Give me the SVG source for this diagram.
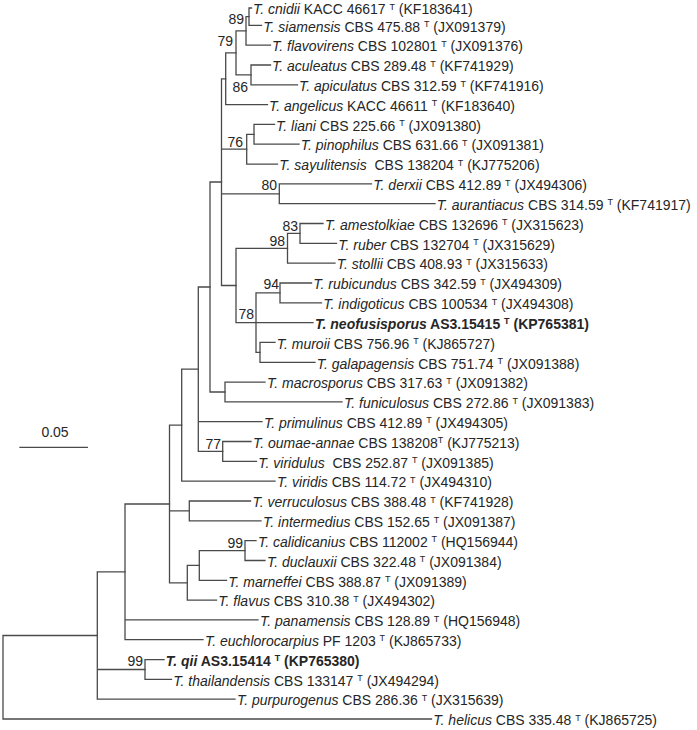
<svg xmlns="http://www.w3.org/2000/svg" width="697" height="730" viewBox="0 0 697 730">
<style>
text{font-family:"Liberation Sans",Arial,sans-serif;font-size:14px;fill:#262626}
.i{font-style:italic}
.b{font-weight:bold}
.s{font-size:9px}
.br{fill:none;stroke:#4a4a4a;stroke-width:1.3;stroke-linecap:square}
</style>
<rect width="697" height="730" fill="#fff"/>
<g id="connectors" class="br">
<path d="M3 635.5V719M3 635.5H97.3M3 719H431.5"/>
<path d="M97.3 571.9V699.2M97.3 571.9H125M97.3 669.5H145M97.3 699.2H235"/>
<path d="M145 659.6V679.4M145 659.6H164M145 679.4H171.5"/>
<path d="M125 504V639.7M125 504H169.5M125 619.9H258M125 639.7H203"/>
<path d="M169.5 425.2V582.8M169.5 425.2H181.7M169.5 510.9H189.3M169.5 582.8H187.3"/>
<path d="M187.3 565.4V600.1M187.3 565.4H199.3M187.3 600.1H216.5"/>
<path d="M199.3 550.6V580.3M199.3 550.6H245M199.3 580.3H226.5"/>
<path d="M245 540.6V560.5M245 540.6H256M245 560.5H265"/>
<path d="M189.3 501V520.8M189.3 501H250.5M189.3 520.8H261"/>
<path d="M181.7 369.2V481.2M181.7 369.2H198.3M181.7 481.2H275"/>
<path d="M198.3 287V451.4M198.3 287H210M198.3 421.7H262M198.3 451.4H222.7"/>
<path d="M222.7 441.5V461.4M222.7 441.5H251M222.7 461.4H256.5"/>
<path d="M210 182V392M210 182H221.5M210 392H225"/>
<path d="M225 382.1V401.9M225 382.1H265M225 401.9H342"/>
<path d="M221.5 78.8V285.5M221.5 78.8H225.7M221.5 149.2H246.7M221.5 193.8H279.3M221.5 285.5H236"/>
<path d="M236 248.3V322.6M236 248.3H287.5M236 322.6H313"/>
<path d="M256 292.9V352.4M256 292.9H280M256 352.4H260"/>
<path d="M260 342.4V362.3M260 342.4H275M260 362.3H315"/>
<path d="M280 283V302.8M280 283H311.5M280 302.8H321.5"/>
<path d="M287.5 233.4V263.2M287.5 233.4H300M287.5 263.2H335"/>
<path d="M300 223.5V243.3M300 223.5H323M300 243.3H336.5"/>
<path d="M279.3 183.9V203.7M279.3 183.9H371.5M279.3 203.7H435"/>
<path d="M246.7 134.3V164.1M246.7 134.3H254M246.7 164.1H277.5"/>
<path d="M254 124.4V144.2M254 124.4H274.5M254 144.2H299"/>
<path d="M225.7 52.9V104.6M225.7 52.9H236M225.7 104.6H267.5"/>
<path d="M236 30.9V74.9M236 30.9H246M236 74.9H251"/>
<path d="M251 65V84.8M251 65H270.5M251 84.8H297.5"/>
<path d="M246 16.6V45.1M246 16.6H249M246 45.1H270.5"/>
<path d="M249 8V25.3M249 8H251.5M249 25.3H261.5"/>
</g>
<g id="scalebar">
<path class="br" d="M20 447.3H87.3"/>
<text x="55" y="437" text-anchor="middle">0.05</text>
</g>
<g id="bootstrap" text-anchor="end">
<text x="244" y="24">89</text>
<text x="233" y="46">79</text>
<text x="248" y="92">86</text>
<text x="243" y="147">76</text>
<text x="277" y="190">80</text>
<text x="298" y="231">83</text>
<text x="285" y="246">98</text>
<text x="279" y="289">94</text>
<text x="254" y="319">78</text>
<text x="221" y="449">77</text>
<text x="243" y="548">99</text>
<text x="143" y="666">99</text>
</g>
<g id="leaves" transform="translate(0,1.3)">
<g id="leaf-cnidii"><text x="253" y="13.2"><tspan class="i">T. cnidii</tspan> KACC 46617 <tspan class="s" dy="-4.5">T</tspan><tspan dy="4.5"> (KF183641)</tspan></text></g>
<g id="leaf-siamensis"><text x="263.3" y="30.3"><tspan class="i">T. siamensis</tspan> CBS 475.88 <tspan class="s" dy="-4.5">T</tspan><tspan dy="4.5"> (JX091379)</tspan></text></g>
<g id="leaf-flavovirens"><text x="272" y="50.1"><tspan class="i">T. flavovirens</tspan> CBS 102801 <tspan class="s" dy="-4.5">T</tspan><tspan dy="4.5"> (JX091376)</tspan></text></g>
<g id="leaf-aculeatus"><text x="272" y="70"><tspan class="i">T. aculeatus</tspan> CBS 289.48 <tspan class="s" dy="-4.5">T</tspan><tspan dy="4.5"> (KF741929)</tspan></text></g>
<g id="leaf-apiculatus"><text x="299" y="89.8"><tspan class="i">T. apiculatus</tspan> CBS 312.59 <tspan class="s" dy="-4.5">T</tspan><tspan dy="4.5"> (KF741916)</tspan></text></g>
<g id="leaf-angelicus"><text x="269" y="109.6"><tspan class="i">T. angelicus</tspan> KACC 46611 <tspan class="s" dy="-4.5">T</tspan><tspan dy="4.5"> (KF183640)</tspan></text></g>
<g id="leaf-liani"><text x="276" y="129.4"><tspan class="i">T. liani</tspan> CBS 225.66 <tspan class="s" dy="-4.5">T</tspan><tspan dy="4.5"> (JX091380)</tspan></text></g>
<g id="leaf-pinophilus"><text x="300.7" y="149.2"><tspan class="i">T. pinophilus</tspan> CBS 631.66 <tspan class="s" dy="-4.5">T</tspan><tspan dy="4.5"> (JX091381)</tspan></text></g>
<g id="leaf-sayulitensis"><text x="279.3" y="169.1"><tspan class="i">T. sayulitensis</tspan> &#160;CBS 138204 <tspan class="s" dy="-4.5">T</tspan><tspan dy="4.5"> (KJ775206)</tspan></text></g>
<g id="leaf-derxii"><text x="373.3" y="188.9"><tspan class="i">T. derxii</tspan> CBS 412.89 <tspan class="s" dy="-4.5">T</tspan><tspan dy="4.5"> (JX494306)</tspan></text></g>
<g id="leaf-aurantiacus"><text x="436.7" y="208.7"><tspan class="i">T. aurantiacus</tspan> CBS 314.59 <tspan class="s" dy="-4.5">T</tspan><tspan dy="4.5"> (KF741917)</tspan></text></g>
<g id="leaf-amestolkiae"><text x="325" y="228.5"><tspan class="i">T. amestolkiae</tspan> CBS 132696 <tspan class="s" dy="-4.5">T</tspan><tspan dy="4.5"> (JX315623)</tspan></text></g>
<g id="leaf-ruber"><text x="338.3" y="248.3"><tspan class="i">T. ruber</tspan> CBS 132704 <tspan class="s" dy="-4.5">T</tspan><tspan dy="4.5"> (JX315629)</tspan></text></g>
<g id="leaf-stollii"><text x="336.7" y="268.2"><tspan class="i">T. stollii</tspan> CBS 408.93 <tspan class="s" dy="-4.5">T</tspan><tspan dy="4.5"> (JX315633)</tspan></text></g>
<g id="leaf-rubicundus"><text x="313.3" y="288"><tspan class="i">T. rubicundus</tspan> CBS 342.59 <tspan class="s" dy="-4.5">T</tspan><tspan dy="4.5"> (JX494309)</tspan></text></g>
<g id="leaf-indigoticus"><text x="323.3" y="307.8"><tspan class="i">T. indigoticus</tspan> CBS 100534 <tspan class="s" dy="-4.5">T</tspan><tspan dy="4.5"> (JX494308)</tspan></text></g>
<g id="leaf-neofusisporus"><text x="315" y="327.6" class="b"><tspan class="i">T. neofusisporus</tspan> AS3.15415 <tspan class="s" dy="-4.5">T</tspan><tspan dy="4.5"> (KP765381)</tspan></text></g>
<g id="leaf-muroii"><text x="276.7" y="347.4"><tspan class="i">T. muroii</tspan> CBS 756.96 <tspan class="s" dy="-4.5">T</tspan><tspan dy="4.5"> (KJ865727)</tspan></text></g>
<g id="leaf-galapagensis"><text x="316.7" y="367.3"><tspan class="i">T. galapagensis</tspan> CBS 751.74 <tspan class="s" dy="-4.5">T</tspan><tspan dy="4.5"> (JX091388)</tspan></text></g>
<g id="leaf-macrosporus"><text x="267" y="387.1"><tspan class="i">T. macrosporus</tspan> CBS 317.63 <tspan class="s" dy="-4.5">T</tspan><tspan dy="4.5"> (JX091382)</tspan></text></g>
<g id="leaf-funiculosus"><text x="344" y="406.9"><tspan class="i">T. funiculosus</tspan> CBS 272.86 <tspan class="s" dy="-4.5">T</tspan><tspan dy="4.5"> (JX091383)</tspan></text></g>
<g id="leaf-primulinus"><text x="264" y="426.7"><tspan class="i">T. primulinus</tspan> CBS 412.89 <tspan class="s" dy="-4.5">T</tspan><tspan dy="4.5"> (JX494305)</tspan></text></g>
<g id="leaf-oumae-annae"><text x="253" y="446.5"><tspan class="i">T. oumae-annae</tspan> CBS 138208<tspan class="s" dy="-4.5">T</tspan><tspan dy="4.5"> (KJ775213)</tspan></text></g>
<g id="leaf-viridulus"><text x="258.3" y="466.4"><tspan class="i">T. viridulus</tspan> &#160;CBS 252.87 <tspan class="s" dy="-4.5">T</tspan><tspan dy="4.5"> (JX091385)</tspan></text></g>
<g id="leaf-viridis"><text x="277" y="486.2"><tspan class="i">T. viridis</tspan> CBS 114.72 <tspan class="s" dy="-4.5">T</tspan><tspan dy="4.5"> (JX494310)</tspan></text></g>
<g id="leaf-verruculosus"><text x="252.5" y="506"><tspan class="i">T. verruculosus</tspan> CBS 388.48 <tspan class="s" dy="-4.5">T</tspan><tspan dy="4.5"> (KF741928)</tspan></text></g>
<g id="leaf-intermedius"><text x="263" y="525.8"><tspan class="i">T. intermedius</tspan> CBS 152.65 <tspan class="s" dy="-4.5">T</tspan><tspan dy="4.5"> (JX091387)</tspan></text></g>
<g id="leaf-calidicanius"><text x="258" y="545.6"><tspan class="i">T. calidicanius</tspan> CBS 112002 <tspan class="s" dy="-4.5">T</tspan><tspan dy="4.5"> (HQ156944)</tspan></text></g>
<g id="leaf-duclauxii"><text x="267" y="565.5"><tspan class="i">T. duclauxii</tspan> CBS 322.48 <tspan class="s" dy="-4.5">T</tspan><tspan dy="4.5"> (JX091384)</tspan></text></g>
<g id="leaf-marneffei"><text x="228.3" y="585.3"><tspan class="i">T. marneffei</tspan> CBS 388.87 <tspan class="s" dy="-4.5">T</tspan><tspan dy="4.5"> (JX091389)</tspan></text></g>
<g id="leaf-flavus"><text x="218.3" y="605.1"><tspan class="i">T. flavus</tspan> CBS 310.38 <tspan class="s" dy="-4.5">T</tspan><tspan dy="4.5"> (JX494302)</tspan></text></g>
<g id="leaf-panamensis"><text x="260" y="624.9"><tspan class="i">T. panamensis</tspan> CBS 128.89 <tspan class="s" dy="-4.5">T</tspan><tspan dy="4.5"> (HQ156948)</tspan></text></g>
<g id="leaf-euchlorocarpius"><text x="205" y="644.7"><tspan class="i">T. euchlorocarpius</tspan> PF 1203 <tspan class="s" dy="-4.5">T</tspan><tspan dy="4.5"> (KJ865733)</tspan></text></g>
<g id="leaf-qii"><text x="165.7" y="664.6" class="b"><tspan class="i">T. qii</tspan> AS3.15414 <tspan class="s" dy="-4.5">T</tspan><tspan dy="4.5"> (KP765380)</tspan></text></g>
<g id="leaf-thailandensis"><text x="173.3" y="684.4"><tspan class="i">T. thailandensis</tspan> CBS 133147 <tspan class="s" dy="-4.5">T</tspan><tspan dy="4.5"> (JX494294)</tspan></text></g>
<g id="leaf-purpurogenus"><text x="237" y="704.2"><tspan class="i">T. purpurogenus</tspan> CBS 286.36 <tspan class="s" dy="-4.5">T</tspan><tspan dy="4.5"> (JX315639)</tspan></text></g>
<g id="leaf-helicus"><text x="433.3" y="724"><tspan class="i">T. helicus</tspan> CBS 335.48 <tspan class="s" dy="-4.5">T</tspan><tspan dy="4.5"> (KJ865725)</tspan></text></g>
</g>
</svg>
